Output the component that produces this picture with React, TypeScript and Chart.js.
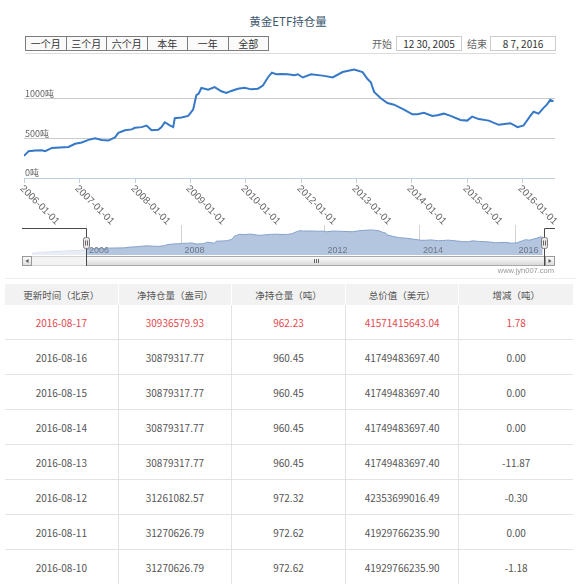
import React, { useEffect, useRef } from 'react';
import { Chart, registerables } from 'chart.js';

Chart.register(...registerables);

// ---- data ----
const chartTitle = '黄金ETF持仓量';
const rangeButtons = ['一个月', '三个月', '六个月', '本年', '一年', '全部'];
const startLabel = '开始';
const endLabel = '结束';
const startDate = '12 30, 2005';
const endDate = '8 7, 2016';

// x axis is ordinal (2011 skipped by the source chart); positions are tick slots
const xTickLabels = ['2006-01-01', '2007-01-01', '2008-01-01', '2009-01-01', '2010-01-01', '2012-01-01', '2013-01-01', '2014-01-01', '2015-01-01', '2016-01-01'];
const xTickPositions = [0, 1, 2, 3, 4, 5, 6, 7, 8, 9];
const yTicks = [0, 500, 1000];
const yUnit = '吨';

const holdingX = [0, 0.085, 0.204, 0.324, 0.384, 0.505, 0.649, 0.805, 0.924, 1.045, 1.166, 1.285, 1.405, 1.526, 1.645, 1.706, 1.825, 1.946, 2.005, 2.126, 2.216, 2.306, 2.427, 2.486, 2.546, 2.636, 2.697, 2.726, 2.847, 2.968, 3.058, 3.117, 3.159, 3.207, 3.267, 3.328, 3.447, 3.568, 3.658, 3.748, 3.868, 3.987, 4.108, 4.229, 4.319, 4.409, 4.481, 4.559, 4.649, 4.770, 4.888, 4.950, 5.040, 5.189, 5.429, 5.580, 5.760, 5.969, 6.121, 6.211, 6.270, 6.330, 6.450, 6.571, 6.690, 6.870, 7.022, 7.112, 7.231, 7.382, 7.472, 7.591, 7.712, 7.892, 8.013, 8.103, 8.222, 8.402, 8.582, 8.793, 8.924, 9.032, 9.153, 9.213, 9.303, 9.393, 9.454, 9.514, 9.573];
const holdingTonnes = [277, 337, 345, 349, 337, 377, 382, 389, 429, 446, 478, 498, 478, 470, 510, 566, 598, 610, 630, 638, 658, 598, 606, 638, 699, 659, 638, 750, 759, 779, 859, 1040, 1060, 1129, 1120, 1108, 1141, 1088, 1068, 1092, 1120, 1133, 1112, 1120, 1160, 1261, 1321, 1301, 1305, 1301, 1289, 1301, 1261, 1301, 1281, 1261, 1329, 1361, 1329, 1241, 1201, 1080, 1000, 940, 920, 859, 799, 799, 819, 779, 787, 807, 779, 727, 720, 771, 739, 720, 667, 687, 638, 659, 779, 831, 807, 880, 920, 980, 960];

// navigator: earlier history before the selected range
const earlyX = [-1.13, -0.95, -0.75, -0.5, -0.25];
const earlyTonnes = [100, 140, 170, 210, 240];
const navYearLabels = ['2006', '2008', '2012', '2014', '2016'];
const navYearPositions = [0, 2, 5, 7, 9];
const selectedMin = 0;
const selectedMax = 9.6;
const watermark = 'www.jyh007.com';

const tableHeaders = ['更新时间（北京）', '净持仓量（盎司）', '净持仓量（吨）', '总价值（美元）', '增减（吨）'];
const tableDates = ['2016-08-17', '2016-08-16', '2016-08-15', '2016-08-14', '2016-08-13', '2016-08-12', '2016-08-11', '2016-08-10'];
const tableOunces = ['30936579.93', '30879317.77', '30879317.77', '30879317.77', '30879317.77', '31261082.57', '31270626.79', '31270626.79'];
const tableTonnes = ['962.23', '960.45', '960.45', '960.45', '960.45', '972.32', '972.62', '972.62'];
const tableValues = ['41571415643.04', '41749483697.40', '41749483697.40', '41749483697.40', '41749483697.40', '42353699016.49', '41929766235.90', '41929766235.90'];
const tableChanges = ['1.78', '0.00', '0.00', '0.00', '-11.87', '-0.30', '0.00', '-1.18'];

const CJK = '"Noto Sans CJK SC", "Noto Sans", sans-serif';
const LAT = '"Liberation Sans", Arial, sans-serif';

const xLabelPlugin = {
  id: 'xlabels',
  afterDraw(chart: any) {
    const { ctx, chartArea } = chart;
    const x = chart.scales.x;
    ctx.save();
    ctx.strokeStyle = '#C0D0E0';
    ctx.lineWidth = 1;
    xTickPositions.forEach((p, i) => {
      const px = Math.round(x.getPixelForValue(p)) + 0.5;
      ctx.beginPath();
      ctx.moveTo(px, chartArea.bottom);
      ctx.lineTo(px, chartArea.bottom + 5);
      ctx.stroke();
      ctx.save();
      ctx.translate(px - 3, chartArea.bottom + 9);
      ctx.rotate(Math.PI / 4);
      ctx.fillStyle = '#666';
      ctx.font = `10px ${LAT}`;
      ctx.textAlign = 'left';
      ctx.textBaseline = 'middle';
      ctx.fillText(xTickLabels[i], 0, 0);
      ctx.restore();
    });
    ctx.restore();
  },
};

const navPlugin = {
  id: 'navdeco',
  afterDraw(chart: any) {
    const { ctx, chartArea: ca } = chart;
    const x = chart.scales.x;
    const hx1 = Math.round(x.getPixelForValue(selectedMin)) + 0.5;
    const hx2 = Math.round(x.getPixelForValue(selectedMax)) + 0.5;
    ctx.save();
    // year labels
    ctx.font = `9px ${LAT}`;
    ctx.fillStyle = '#6E7785';
    ctx.textBaseline = 'middle';
    ctx.textAlign = 'left';
    navYearPositions.forEach((p, i) => ctx.fillText(navYearLabels[i], x.getPixelForValue(p) + 3, ca.bottom - 4));
    // mask outside the selected range
    ctx.fillStyle = 'rgba(255,255,255,0.7)';
    ctx.fillRect(ca.left, ca.top, hx1 - ca.left, ca.bottom - ca.top);
    ctx.fillRect(hx2, ca.top, ca.right - hx2, ca.bottom - ca.top);
    // scrollbar
    const sy = ca.bottom + 1;
    const sh = 10;
    ctx.fillStyle = '#F3F3F3';
    ctx.fillRect(ca.left, sy, ca.right - ca.left, sh);
    ctx.strokeStyle = '#D4D4D4';
    ctx.strokeRect(ca.left + 0.5, sy + 0.5, ca.right - ca.left - 1, sh - 1);
    const g = ctx.createLinearGradient(0, sy, 0, sy + sh);
    g.addColorStop(0, '#FFFFFF');
    g.addColorStop(1, '#D6D6D6');
    ctx.fillStyle = g;
    ctx.fillRect(hx1, sy, hx2 - hx1, sh);
    ctx.strokeStyle = '#A8A8A8';
    ctx.strokeRect(hx1, sy + 0.5, hx2 - hx1, sh - 1);
    const cx = Math.round((hx1 + hx2) / 2) + 0.5;
    ctx.strokeStyle = '#666';
    [-2, 0, 2].forEach((d) => {
      ctx.beginPath();
      ctx.moveTo(cx + d, sy + 3);
      ctx.lineTo(cx + d, sy + 7);
      ctx.stroke();
    });
    const btn = (bx: number, dir: number) => {
      const bg = ctx.createLinearGradient(0, sy, 0, sy + sh);
      bg.addColorStop(0, '#FFFFFF');
      bg.addColorStop(1, '#DADADA');
      ctx.fillStyle = bg;
      ctx.fillRect(bx, sy, 10, sh);
      ctx.strokeStyle = '#999';
      ctx.strokeRect(bx + 0.5, sy + 0.5, 9, sh - 1);
      ctx.fillStyle = '#555';
      ctx.beginPath();
      const mx = bx + 5;
      const my = sy + sh / 2;
      ctx.moveTo(mx - 1.5 * dir, my);
      ctx.lineTo(mx + 1.5 * dir, my - 2);
      ctx.lineTo(mx + 1.5 * dir, my + 2);
      ctx.closePath();
      ctx.fill();
    };
    btn(ca.left, 1);
    btn(ca.right - 10, -1);
    // outline
    ctx.strokeStyle = '#4A4A4A';
    ctx.lineWidth = 1;
    ctx.beginPath();
    ctx.moveTo(ca.left, 6.5);
    ctx.lineTo(hx1, 6.5);
    ctx.lineTo(hx1, sy + sh);
    ctx.moveTo(hx2, sy + sh);
    ctx.lineTo(hx2, 6.5);
    ctx.lineTo(ca.right, 6.5);
    ctx.stroke();
    // handles
    [hx1, hx2].forEach((hx) => {
      ctx.fillStyle = '#EBE7E8';
      ctx.strokeStyle = '#7A7A7A';
      ctx.beginPath();
      if (ctx.roundRect) ctx.roundRect(hx - 3, 15.5, 6, 11, 2);
      else ctx.rect(hx - 3, 15.5, 6, 11);
      ctx.fill();
      ctx.stroke();
      ctx.strokeStyle = '#666';
      [-1, 1].forEach((d) => {
        ctx.beginPath();
        ctx.moveTo(hx + d, 18.5);
        ctx.lineTo(hx + d, 23.5);
        ctx.stroke();
      });
    });
    ctx.restore();
  },
};

export default function App() {
  const mainRef = useRef<HTMLCanvasElement>(null);
  const navRef = useRef<HTMLCanvasElement>(null);

  useEffect(() => {
    const mainPts = holdingX.map((x, i) => ({ x, y: holdingTonnes[i] }));
    const navPts = [...earlyX.map((x, i) => ({ x, y: earlyTonnes[i] })), ...mainPts];

    const main = new Chart(mainRef.current as HTMLCanvasElement, {
      type: 'line',
      data: {
        datasets: [
          { data: mainPts, borderColor: '#3578C8', borderWidth: 2, pointRadius: 0, tension: 0, fill: false },
        ],
      },
      options: {
        animation: false,
        responsive: false,
        events: [],
        layout: { padding: { left: 22, right: 21, top: 2, bottom: 48 }, autoPadding: false },
        plugins: { legend: { display: false }, tooltip: { enabled: false } },
        scales: {
          x: { type: 'linear', min: 0, max: selectedMax, display: false },
          y: {
            type: 'linear',
            min: 0,
            max: 1450,
            border: { display: false },
            grid: {
              drawTicks: false,
              tickLength: 0,
              color: (c: any) => (c.tick && c.tick.value === 0 ? '#C0D0E0' : '#CBCBCB'),
            },
            afterBuildTicks: (s: any) => {
              s.ticks = yTicks.map((v) => ({ value: v }));
            },
            ticks: {
              mirror: true,
              padding: 1,
              labelOffset: -5,
              color: '#666',
              font: { size: 9, family: CJK },
              callback: (v: any) => `${v}${yUnit}`,
            },
          },
        },
      } as any,
      plugins: [xLabelPlugin],
    });

    const nav = new Chart(navRef.current as HTMLCanvasElement, {
      type: 'line',
      data: {
        datasets: [
          {
            data: navPts,
            borderColor: '#86A2CB',
            borderWidth: 1,
            backgroundColor: '#B4C6DF',
            fill: 'origin',
            pointRadius: 0,
            tension: 0,
          },
        ],
      },
      options: {
        animation: false,
        responsive: false,
        events: [],
        layout: { padding: { left: 22, right: 21, top: 3, bottom: 13 }, autoPadding: false },
        plugins: { legend: { display: false }, tooltip: { enabled: false } },
        scales: {
          x: {
            type: 'linear',
            min: -1.342,
            max: 9.83,
            border: { display: false },
            grid: { drawTicks: false, tickLength: 0, color: '#D2D2D2' },
            ticks: { display: false },
            afterBuildTicks: (s: any) => {
              s.ticks = navYearPositions.map((v) => ({ value: v }));
            },
          },
          y: { type: 'linear', min: 0, max: 1630, display: false },
        },
      } as any,
      plugins: [navPlugin],
    });

    return () => {
      main.destroy();
      nav.destroy();
    };
  }, []);

  const cellBase: React.CSSProperties = {
    position: 'absolute',
    display: 'flex',
    alignItems: 'center',
    justifyContent: 'center',
    boxSizing: 'border-box',
  };
  const tableLeft = 5;
  const tableWidth = 568;
  const colW = tableWidth / 5;
  const headerTop = 284;
  const headerH = 21;
  const rowH = 35;
  const rows = tableDates.map((d, i) => [d, tableOunces[i], tableTonnes[i], tableValues[i], tableChanges[i]]);

  return (
    <div
      style={{
        position: 'absolute',
        left: 0,
        top: 0,
        width: 576,
        height: 584,
        overflow: 'hidden',
        background: '#fff',
        fontFamily: CJK,
      }}
    >
      <div
        style={{
          position: 'absolute',
          left: 0,
          width: 576,
          top: 12,
          textAlign: 'center',
          fontSize: 11.5,
          lineHeight: '18px',
          color: '#3E576F',
        }}
      >
        {chartTitle}
      </div>

      {rangeButtons.map((b, i) => (
        <div
          key={b}
          style={{
            ...cellBase,
            left: 25 + i * 40.5,
            top: 36,
            width: 41.5,
            height: 15,
            border: '1px solid #7C7C7C',
            background: '#FAFAFA',
            fontSize: 10,
            color: '#333',
          }}
        >
          {b}
        </div>
      ))}

      <div style={{ ...cellBase, left: 370, top: 36, width: 24, height: 15, fontSize: 10, color: '#666' }}>{startLabel}</div>
      <div
        style={{
          ...cellBase,
          left: 396,
          top: 36,
          width: 66,
          height: 15,
          border: '1px solid #CCCCCC',
          fontSize: 10,
          color: '#333',
        }}
      >
        {startDate}
      </div>
      <div style={{ ...cellBase, left: 465, top: 36, width: 24, height: 15, fontSize: 10, color: '#666' }}>{endLabel}</div>
      <div
        style={{
          ...cellBase,
          left: 490,
          top: 36,
          width: 66,
          height: 15,
          border: '1px solid #CCCCCC',
          fontSize: 10,
          color: '#333',
        }}
      >
        {endDate}
      </div>
      <div style={{ position: 'absolute', left: 25, top: 53, width: 531, height: 1, background: '#DCDCDC' }} />

      <canvas
        ref={mainRef}
        width={576}
        height={170}
        style={{ position: 'absolute', left: 0, top: 56, width: 576, height: 170 }}
      />
      <canvas
        ref={navRef}
        width={576}
        height={46}
        style={{ position: 'absolute', left: 0, top: 222, width: 576, height: 46 }}
      />
      <div
        style={{
          position: 'absolute',
          right: 22,
          top: 266,
          fontSize: 7.5,
          lineHeight: '10px',
          color: '#999',
          fontFamily: LAT,
        }}
      >
        {watermark}
      </div>
      <div style={{ position: 'absolute', left: 5, top: 278, width: 571, height: 1, background: '#EEEEEE' }} />

      {tableHeaders.map((h, c) => (
        <div
          key={h}
          style={{
            ...cellBase,
            left: tableLeft + c * colW,
            top: headerTop,
            width: colW,
            height: headerH,
            background: '#F2F2F2',
            borderRight: c < 4 ? '1px solid #FFFFFF' : 'none',
            fontSize: 9.5,
            color: '#555',
          }}
        >
          {h}
        </div>
      ))}

      {rows.map((r, ri) =>
        r.map((v, c) => (
          <div
            key={`${ri}-${c}`}
            style={{
              ...cellBase,
              left: tableLeft + c * colW,
              top: headerTop + headerH + ri * rowH,
              width: colW,
              height: rowH,
              borderBottom: '1px solid #E3E3E3',
              borderRight: c < 4 ? '1px solid #E3E3E3' : 'none',
              fontSize: 10,
              color: ri === 0 ? '#E5484D' : '#555',
            }}
          >
            {v}
          </div>
        ))
      )}
    </div>
  );
}
